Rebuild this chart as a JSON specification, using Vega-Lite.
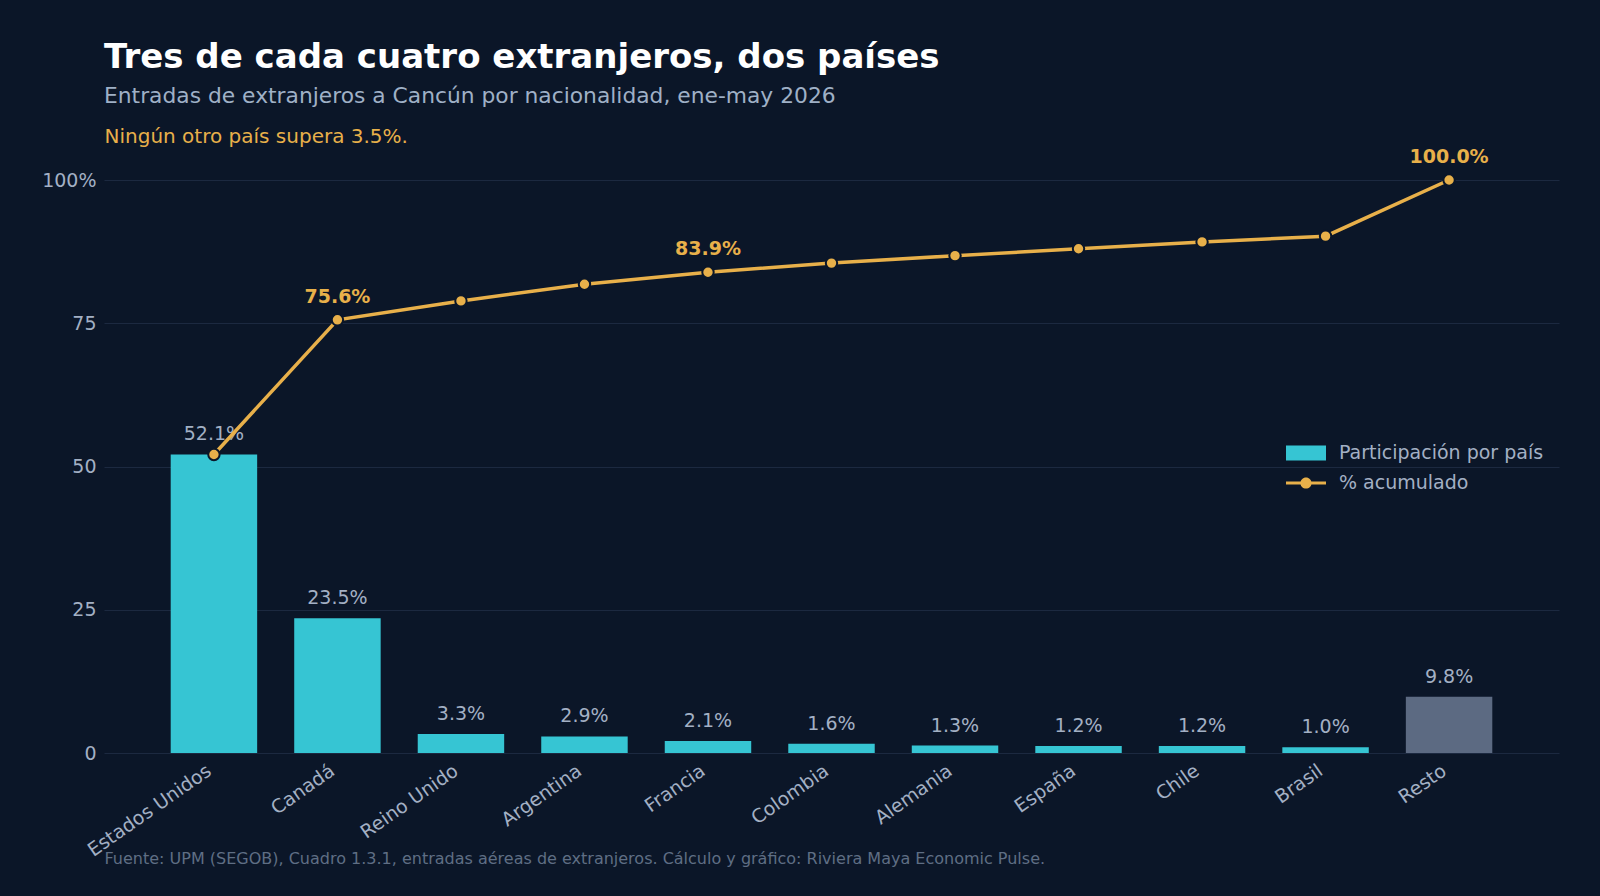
{
  "$schema": "https://vega.github.io/schema/vega-lite/v6.json",
  "width": 1600,
  "height": 896,
  "autosize": {"type": "fit", "contains": "padding"},
  "padding": {"left": 41, "right": 41, "top": 41, "bottom": 30},
  "background": "#0b1628",
  "title": {
    "text": "Tres de cada cuatro extranjeros, dos países",
    "subtitle": "Entradas de extranjeros a Cancún por nacionalidad, ene-may 2026",
    "anchor": "start",
    "frame": "group",
    "font": "DejaVu Sans",
    "fontSize": 34,
    "fontWeight": "bold",
    "color": "#ffffff",
    "subtitleFont": "DejaVu Sans",
    "subtitleFontSize": 21.8,
    "subtitleColor": "#9fb0c6",
    "subtitlePadding": 11,
    "offset": 18
  },
  "config": {
    "view": {"stroke": null},
    "font": "DejaVu Sans",
    "axisY": {
      "grid": true,
      "gridColor": "#1c2940",
      "gridWidth": 1,
      "domain": false,
      "ticks": false,
      "labelFontSize": 19,
      "labelColor": "#a3b0c4",
      "labelPadding": 8,
      "titleAngle": 0,
      "titleX": 0,
      "titleY": -38,
      "titleAlign": "left",
      "titleBaseline": "alphabetic",
      "titleColor": "#e8b04a",
      "titleFontSize": 20,
      "titleFontWeight": "normal"
    },
    "axisX": {
      "grid": false,
      "domain": false,
      "ticks": false,
      "labelFontSize": 19,
      "labelColor": "#a3b0c4",
      "labelAngle": -35,
      "labelAlign": "right",
      "labelBaseline": "top",
      "labelPadding": 8,
      "labelOffset": -10,
      "titleX": 0,
      "titleY": 110,
      "titleAlign": "left",
      "titleBaseline": "alphabetic",
      "titleColor": "#5f6e84",
      "titleFontSize": 16,
      "titleFontWeight": "normal"
    },
    "legend": {
      "orient": "none",
      "legendX": 1182,
      "legendY": 253,
      "labelFontSize": 19,
      "labelColor": "#a3b0c4",
      "labelOffset": 13,
      "labelLimit": 0,
      "symbolSize": 1600,
      "rowPadding": -2,
      "padding": 0
    }
  },
  "data": {
    "values": [
      {"pais": "Estados Unidos", "share": 52.1, "acum": 52.1, "lbl": "52.1%", "hito": ""},
      {"pais": "Canadá", "share": 23.5, "acum": 75.6, "lbl": "23.5%", "hito": "75.6%"},
      {"pais": "Reino Unido", "share": 3.3, "acum": 78.9, "lbl": "3.3%", "hito": ""},
      {"pais": "Argentina", "share": 2.9, "acum": 81.8, "lbl": "2.9%", "hito": ""},
      {"pais": "Francia", "share": 2.1, "acum": 83.9, "lbl": "2.1%", "hito": "83.9%"},
      {"pais": "Colombia", "share": 1.6, "acum": 85.5, "lbl": "1.6%", "hito": ""},
      {"pais": "Alemania", "share": 1.3, "acum": 86.8, "lbl": "1.3%", "hito": ""},
      {"pais": "España", "share": 1.2, "acum": 88.0, "lbl": "1.2%", "hito": ""},
      {"pais": "Chile", "share": 1.2, "acum": 89.2, "lbl": "1.2%", "hito": ""},
      {"pais": "Brasil", "share": 1.0, "acum": 90.2, "lbl": "1.0%", "hito": ""},
      {"pais": "Resto", "share": 9.8, "acum": 100.0, "lbl": "9.8%", "hito": "100.0%"}
    ]
  },
  "encoding": {
    "x": {
      "field": "pais",
      "type": "nominal",
      "sort": null,
      "title": "Fuente: UPM (SEGOB), Cuadro 1.3.1, entradas aéreas de extranjeros. Cálculo y gráfico: Riviera Maya Economic Pulse.",
      "scale": {"paddingInner": 0.3, "paddingOuter": 0.54}
    }
  },
  "layer": [
    {
      "mark": {"type": "bar"},
      "encoding": {
        "y": {
          "field": "share",
          "type": "quantitative",
          "title": "Ningún otro país supera 3.5%.",
          "scale": {"domain": [0, 100], "nice": false},
          "axis": {"values": [0, 25, 50, 75, 100], "labelExpr": "datum.value === 100 ? '100%' : datum.label"}
        },
        "color": {
          "condition": {"test": "datum.pais === 'Resto'", "value": "#5c6a82"},
          "value": "#36c5d3"
        }
      }
    },
    {
      "mark": {"type": "text", "baseline": "alphabetic", "dy": -14, "fontSize": 19, "color": "#a3b0c4"},
      "encoding": {
        "y": {"field": "share", "type": "quantitative", "title": "Ningún otro país supera 3.5%."},
        "text": {"field": "lbl"}
      }
    },
    {
      "mark": {"type": "line", "strokeWidth": 3.5},
      "encoding": {
        "y": {"field": "acum", "type": "quantitative", "title": "Ningún otro país supera 3.5%."},
        "color": {
          "datum": "% acumulado",
          "scale": {"domain": ["Participación por país", "% acumulado"], "range": ["#36c5d3", "#e8b04a"]},
          "legend": {
            "title": null,
            "encode": {
              "symbols": {
                "update": {
                  "shape": {"signal": "datum.value === '% acumulado' ? 'M-1,-0.08H1V0.08H-1ZM0.28,0A0.28,0.28,0,1,1,-0.28,0A0.28,0.28,0,1,1,0.28,0Z' : 'M-1,-0.375H1V0.375H-1Z'"},
                  "fill": {"signal": "datum.value === '% acumulado' ? '#e8b04a' : '#36c5d3'"},
                  "stroke": {"value": "transparent"},
                  "strokeWidth": {"value": 0},
                  "opacity": {"value": 1},
                  "fillOpacity": {"value": 1}
                }
              }
            }
          }
        }
      }
    },
    {
      "mark": {"type": "circle", "size": 130, "fill": "#e8b04a", "stroke": "#0b1628", "strokeWidth": 2, "opacity": 1},
      "encoding": {
        "y": {"field": "acum", "type": "quantitative", "title": "Ningún otro país supera 3.5%."}
      }
    },
    {
      "mark": {"type": "text", "baseline": "alphabetic", "dy": -17, "fontSize": 19, "fontWeight": "bold", "color": "#e8b04a"},
      "encoding": {
        "y": {"field": "acum", "type": "quantitative", "title": "Ningún otro país supera 3.5%."},
        "text": {"field": "hito"}
      }
    }
  ]
}
